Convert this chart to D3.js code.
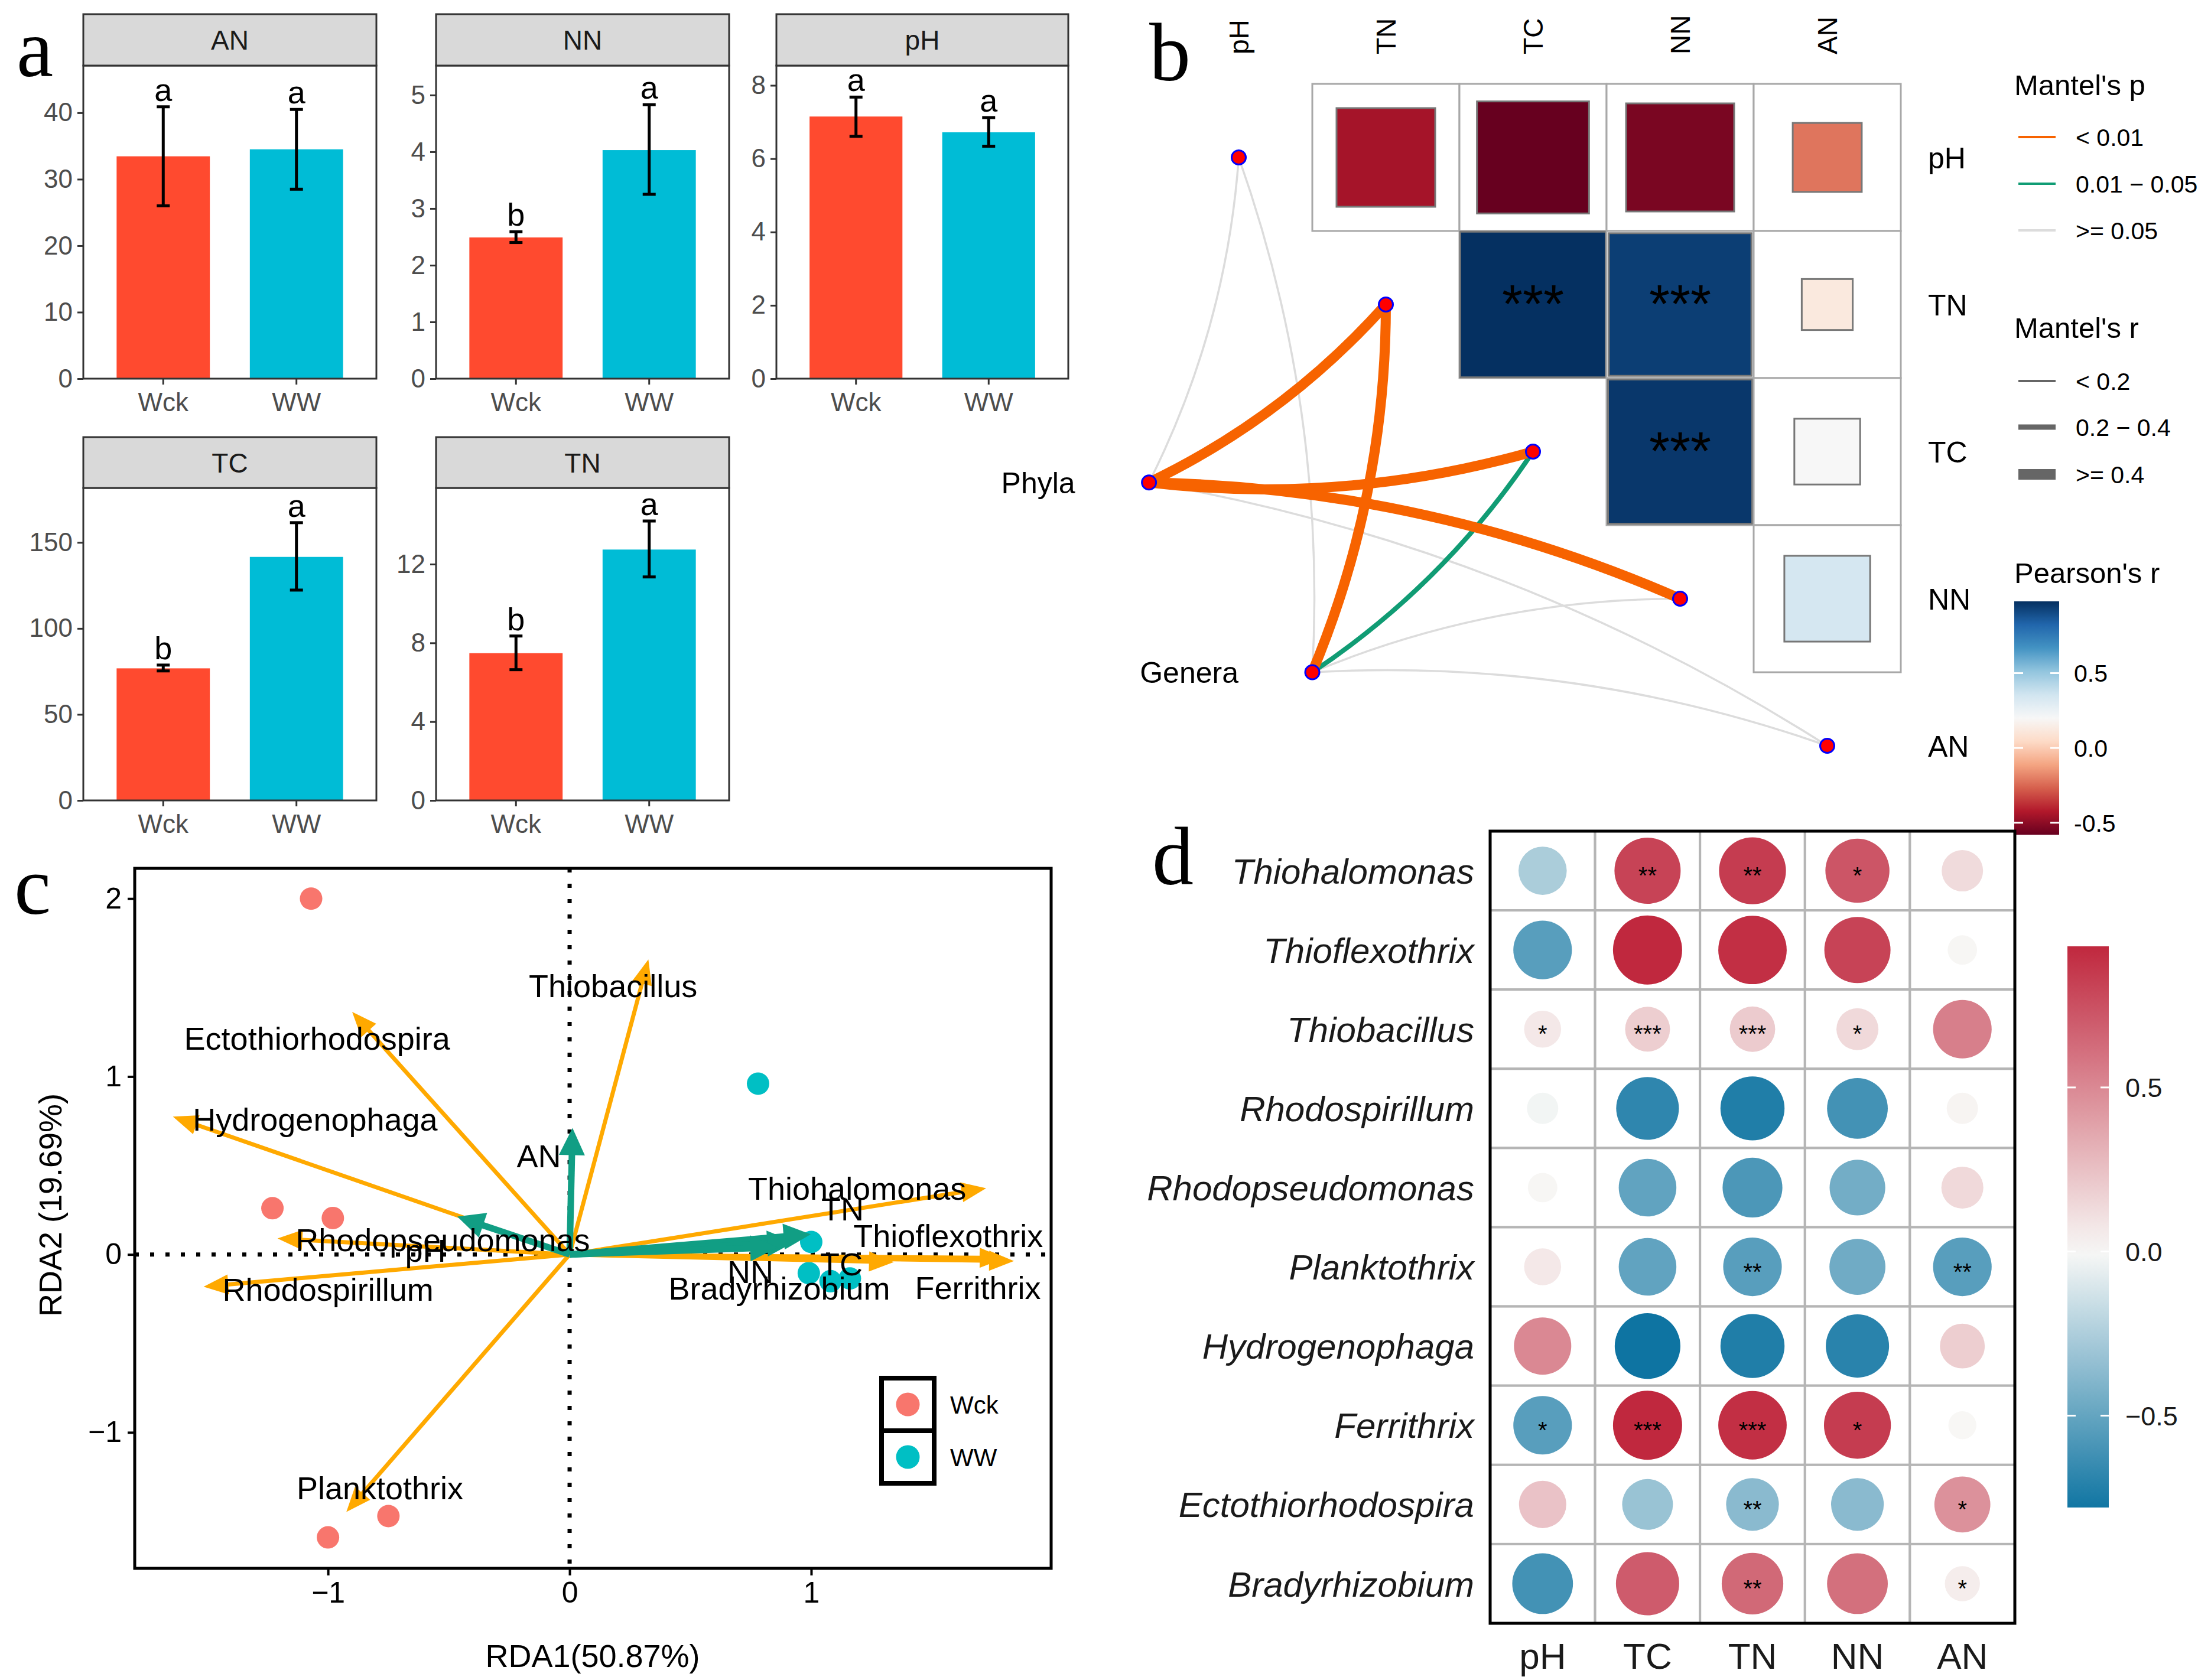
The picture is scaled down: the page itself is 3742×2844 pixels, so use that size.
<!DOCTYPE html>
<html>
<head>
<meta charset="utf-8">
<script src="https://cdn.jsdelivr.net/npm/d3@7"></script>
<style>
body{margin:0;background:#fff}
svg{display:block}
text{font-family:"Liberation Sans",Arial,Helvetica,sans-serif}
</style>
</head>
<body>
<svg id="fig" width="3742" height="2844"></svg>
<script>
// ---------- data: panel a (bars, mean and error range) ----------
var groups = ["Wck", "WW"];
var facetVars = ["AN", "NN", "pH", "TC", "TN"];
var barMeans = [[33.45, 34.5], [2.49, 4.03], [7.15, 6.72], [76.8, 141.6], [7.48, 12.74]];
var errLow  = [[26.0, 28.5], [2.40, 3.25], [6.61, 6.34], [75.3, 122.3], [6.64, 11.35]];
var errHigh = [[40.9, 40.5], [2.59, 4.83], [7.68, 7.12], [78.7, 161.5], [8.35, 14.19]];
var sigLetters = [["a", "a"], ["b", "a"], ["a", "a"], ["b", "a"], ["b", "a"]];
var yTop = [47.1, 5.52, 8.54, 181.7, 15.87];
var yTicks = [[0, 10, 20, 30, 40], [0, 1, 2, 3, 4, 5], [0, 2, 4, 6, 8], [0, 50, 100, 150], [0, 4, 8, 12]];

// ---------- data: panel b (pearson matrix + mantel links) ----------
var envVars = ["pH", "TN", "TC", "NN", "AN"];
var pearsonB = [
  [null, -0.45, -0.58, -0.54, -0.22],
  [null, null, 0.98, 0.94, 0.12],
  [null, null, null, 0.96, 0.20],
  [null, null, null, null, 0.34],
  [null, null, null, null, null]
];
var pearsonSig = [
  ["", "", "", "", ""],
  ["", "", "***", "***", ""],
  ["", "", "", "***", ""],
  ["", "", "", "", ""],
  ["", "", "", "", ""]
];
var specs = ["Phyla", "Genera"];
var mantelR = [[0.10, 0.46, 0.45, 0.48, 0.08], [0.05, 0.42, 0.28, 0.12, 0.10]];
var mantelP = [[0.30, 0.002, 0.001, 0.001, 0.50], [0.60, 0.004, 0.02, 0.20, 0.30]];
var pLabels = ["< 0.01", "0.01 \u2212 0.05", ">= 0.05"];
var rLabels = ["< 0.2", "0.2 \u2212 0.4", ">= 0.4"];

// ---------- data: panel c (RDA) ----------
var siteGroup = ["Wck", "Wck", "Wck", "Wck", "Wck", "WW", "WW", "WW", "WW", "WW"];
var siteX = [-1.07, -1.23, -0.98, -0.75, -1.00, 0.78, 1.00, 0.99, 1.08, 1.16];
var siteY = [2.00, 0.26, 0.205, -1.47, -1.59, 0.96, 0.07, -0.105, -0.15, -0.135];
var speciesNames = ["Thiobacillus", "Ectothiorhodospira", "Hydrogenophaga", "Rhodopseudomonas", "Rhodospirillum",
  "Planktothrix", "Thiohalomonas", "Thioflexothrix", "Ferrithrix", "Bradyrhizobium"];
var speciesX = [0.326, -0.90, -1.642, -1.209, -1.515, -0.924, 1.724, 1.80, 1.839, 1.342];
var speciesY = [1.658, 1.363, 0.775, 0.09, -0.181, -1.447, 0.372, -0.02, -0.037, -0.043];
var speciesLabX = [0.18, -1.045, -1.053, -0.525, -1.0, -0.785, 1.19, 1.567, 1.69, 0.868];
var speciesLabY = [1.51, 1.215, 0.76, 0.084, -0.196, -1.311, 0.372, 0.107, -0.186, -0.19];
var envNamesC = ["AN", "pH", "TN", "TC", "NN"];
var envX = [0.012, -0.465, 0.998, 0.93, 0.86];
var envY = [0.711, 0.213, 0.113, 0.07, 0.04];
var envLabX = [-0.127, -0.597, 1.13, 1.125, 0.748];
var envLabY = [0.556, 0.024, 0.257, -0.053, -0.097];

// ---------- data: panel d (genus x env correlation) ----------
var genera = ["Thiohalomonas", "Thioflexothrix", "Thiobacillus", "Rhodospirillum", "Rhodopseudomonas",
  "Planktothrix", "Hydrogenophaga", "Ferrithrix", "Ectothiorhodospira", "Bradyrhizobium"];
var envD = ["pH", "TC", "TN", "NN", "AN"];
var corrD = [
  [-0.26, 0.81, 0.84, 0.73, 0.13],
  [-0.54, 0.93, 0.90, 0.81, 0.01],
  [0.07, 0.19, 0.20, 0.14, 0.54],
  [-0.02, -0.68, -0.73, -0.61, 0.02],
  [0.01, -0.51, -0.58, -0.45, 0.14],
  [0.07, -0.51, -0.54, -0.46, -0.54],
  [0.50, -0.79, -0.73, -0.70, 0.19],
  [-0.54, 0.93, 0.90, 0.84, 0.005],
  [0.24, -0.32, -0.37, -0.37, 0.46],
  [-0.61, 0.70, 0.64, 0.61, 0.05]
];
var sigD = [
  ["", "**", "**", "*", ""],
  ["", "", "", "", ""],
  ["*", "***", "***", "*", ""],
  ["", "", "", "", ""],
  ["", "", "", "", ""],
  ["", "", "**", "", "**"],
  ["", "", "", "", ""],
  ["*", "***", "***", "*", ""],
  ["", "", "**", "", "*"],
  ["", "", "**", "", "*"]
];

var svg = d3.select('#fig');
svg.append('rect').attr('width', 3742).attr('height', 2844).attr('fill', '#fff');

function panelLetter(t, x, y) {
  svg.append('text').attr('x', x).attr('y', y).text(t)
    .style('font-family', '"Liberation Serif","Times New Roman",serif')
    .style('font-size', '140px').attr('fill', '#000');
}

// ================= panel a =================
var groupFill = ["#FF4A2F", "#00BCD6"];
var facetCol = [0, 1, 2, 0, 1], facetRow = [0, 0, 0, 1, 1];
var colLeft = [141, 738, 1314], panelW = [496, 496, 494];
var rowStrip = [24, 740], rowTop = [111, 826], rowBottom = [641, 1355];

facetVars.forEach(function(v, i) {
  var L = colLeft[facetCol[i]], W = panelW[facetCol[i]];
  var T = rowTop[facetRow[i]], B = rowBottom[facetRow[i]], S = rowStrip[facetRow[i]];
  var x = d3.scaleBand().domain(groups).range([L, L + W]).paddingInner(0.3).paddingOuter(0.25);
  var y = d3.scaleLinear().domain([0, yTop[i]]).range([B, T]);
  var g = svg.append('g');

  g.selectAll('rect.bar').data(groups).enter().append('rect')
    .attr('x', function(d) { return x(d); })
    .attr('width', x.bandwidth())
    .attr('y', function(d, j) { return y(barMeans[i][j]); })
    .attr('height', function(d, j) { return B - y(barMeans[i][j]); })
    .attr('fill', function(d, j) { return groupFill[j]; });

  // error bars
  groups.forEach(function(d, j) {
    var cx = x(d) + x.bandwidth() / 2;
    g.append('line').attr('x1', cx).attr('x2', cx)
      .attr('y1', y(errLow[i][j])).attr('y2', y(errHigh[i][j]))
      .attr('stroke', '#000').attr('stroke-width', 5);
    [errLow[i][j], errHigh[i][j]].forEach(function(e) {
      g.append('line').attr('x1', cx - 11).attr('x2', cx + 11)
        .attr('y1', y(e)).attr('y2', y(e))
        .attr('stroke', '#000').attr('stroke-width', 5);
    });
    g.append('text').attr('x', cx).attr('y', y(errHigh[i][j]) - 10)
      .attr('text-anchor', 'middle').style('font-size', '54px').attr('fill', '#000')
      .text(sigLetters[i][j]);
  });

  var ay = g.append('g').attr('transform', 'translate(' + L + ',0)')
    .call(d3.axisLeft(y).tickValues(yTicks[i]).tickSize(10).tickPadding(8).tickFormat(d3.format('~g')));
  var ax = g.append('g').attr('transform', 'translate(0,' + B + ')')
    .call(d3.axisBottom(x).tickSize(10).tickPadding(14));
  [ay, ax].forEach(function(a) {
    a.select('.domain').remove();
    a.selectAll('line').attr('stroke', '#333').attr('stroke-width', 3);
    a.selectAll('text').style('font-size', '44px').attr('fill', '#4d4d4d')
      .style('font-family', '"Liberation Sans",Arial,sans-serif');
  });

  g.append('rect').attr('x', L).attr('y', T).attr('width', W).attr('height', B - T)
    .attr('fill', 'none').attr('stroke', '#333').attr('stroke-width', 3);
  g.append('rect').attr('x', L).attr('y', S).attr('width', W).attr('height', T - S)
    .attr('fill', '#d9d9d9').attr('stroke', '#333').attr('stroke-width', 3);
  g.append('text').attr('x', L + W / 2).attr('y', (S + T) / 2).attr('dy', '0.36em')
    .attr('text-anchor', 'middle').style('font-size', '46px').attr('fill', '#1a1a1a').text(v);
});
panelLetter('a', 28, 129);

// ================= panel b =================
var cellB = 249;
var bx = d3.scaleBand().domain(envVars).range([1972, 1972 + 5 * cellB]);
var by = d3.scaleBand().domain(envVars).range([142, 142 + 5 * cellB]);
var gu = d3.scaleLinear().domain([0, 5]).range([1972, 1972 + 5 * cellB]);
var gv = d3.scaleLinear().domain([0, 5]).range([142, 142 + 5 * cellB]);
var rdbu = d3.schemeRdBu[11];
var pearsonMin = -0.58, pearsonMax = 0.98;
var colB = d3.scaleLinear()
  .domain(d3.range(11).map(function(k) { return pearsonMin + k * (pearsonMax - pearsonMin) / 10; }))
  .range(rdbu);

var gb = svg.append('g');
// links first (below nodes)
var specU = [-0.11, 1.0], specV = [2.71, 4.0];
function pColor(p) { return p < 0.01 ? "#F76300" : (p < 0.05 ? "#109C74" : "#DCDCDC"); }
function rWidth(r) { return r < 0.2 ? 3.5 : (r < 0.4 ? 8 : 17); }
var links = [];
specs.forEach(function(s, si) {
  envVars.forEach(function(e, ei) {
    links.push({si: si, ei: ei, r: mantelR[si][ei], p: mantelP[si][ei]});
  });
});
links.sort(function(a, b) { return b.p - a.p; });
links.forEach(function(l) {
  var x1 = gu(specU[l.si]), y1 = gv(specV[l.si]);
  var x2 = bx(envVars[l.ei]) + cellB / 2, y2 = by(envVars[l.ei]) + cellB / 2;
  var dx = x2 - x1, dy = y2 - y1, len = Math.sqrt(dx * dx + dy * dy);
  var sgn = l.ei < envVars.length / 2 ? 1 : -1;
  var cx = (x1 + x2) / 2 + sgn * (-dy / len) * 0.1 * len;
  var cy = (y1 + y2) / 2 + sgn * (dx / len) * 0.1 * len;
  gb.append('path').attr('d', 'M' + x1 + ',' + y1 + 'Q' + cx + ',' + cy + ' ' + x2 + ',' + y2)
    .attr('fill', 'none').attr('stroke', pColor(l.p)).attr('stroke-width', rWidth(l.r));
});

// matrix cells
envVars.forEach(function(rv, i) {
  envVars.forEach(function(cv, j) {
    var r = pearsonB[i][j];
    if (r === null) return;
    var x0 = bx(cv), y0 = by(rv);
    gb.append('rect').attr('x', x0).attr('y', y0).attr('width', cellB).attr('height', cellB)
      .attr('fill', '#fff').attr('stroke', '#a8a8a8').attr('stroke-width', 3);
    var side = cellB * Math.sqrt(Math.abs(r));
    gb.append('rect').attr('x', x0 + (cellB - side) / 2).attr('y', y0 + (cellB - side) / 2)
      .attr('width', side).attr('height', side)
      .attr('fill', colB(r)).attr('stroke', '#777').attr('stroke-width', 3);
    if (pearsonSig[i][j]) {
      gb.append('text').attr('x', x0 + cellB / 2).attr('y', y0 + cellB / 2 + 30)
        .attr('text-anchor', 'middle').style('font-size', '90px').attr('fill', '#000')
        .text(pearsonSig[i][j]);
    }
  });
});

// nodes
envVars.forEach(function(v) {
  gb.append('circle').attr('cx', bx(v) + cellB / 2).attr('cy', by(v) + cellB / 2).attr('r', 12)
    .attr('fill', '#FF0000').attr('stroke', '#0000FF').attr('stroke-width', 3);
});
specs.forEach(function(s, si) {
  var x = gu(specU[si]), y = gv(specV[si]);
  gb.append('circle').attr('cx', x).attr('cy', y).attr('r', 12)
    .attr('fill', '#FF0000').attr('stroke', '#0000FF').attr('stroke-width', 3);
  gb.append('text').attr('x', x - 125).attr('y', y).attr('dy', '0.36em').attr('text-anchor', 'end')
    .style('font-size', '50px').attr('fill', '#000').text(s);
});

// labels
envVars.forEach(function(v) {
  var cx = bx(v) + cellB / 2;
  gb.append('text').attr('transform', 'translate(' + cx + ',92) rotate(-90)').attr('dy', '0.36em')
    .style('font-size', '46px').attr('fill', '#000').text(v);
  gb.append('text').attr('x', 3263).attr('y', by(v) + cellB / 2).attr('dy', '0.36em')
    .style('font-size', '50px').attr('fill', '#000').text(v);
});

// legends
var lx = 3409;
gb.append('text').attr('x', lx).attr('y', 161).style('font-size', '49px').text("Mantel's p");
pLabels.forEach(function(t, k) {
  var yy = [232, 311, 390][k];
  gb.append('line').attr('x1', 3416).attr('x2', 3479).attr('y1', yy).attr('y2', yy)
    .attr('stroke', [pColor(0.001), pColor(0.02), pColor(0.5)][k]).attr('stroke-width', 4);
  gb.append('text').attr('x', 3513).attr('y', yy).attr('dy', '0.36em').style('font-size', '41px').text(t);
});
gb.append('text').attr('x', lx).attr('y', 572).style('font-size', '49px').text("Mantel's r");
rLabels.forEach(function(t, k) {
  var yy = [645, 723, 803][k];
  gb.append('line').attr('x1', 3416).attr('x2', 3479).attr('y1', yy).attr('y2', yy)
    .attr('stroke', '#666').attr('stroke-width', [4, 9, 18][k]);
  gb.append('text').attr('x', 3513).attr('y', yy).attr('dy', '0.36em').style('font-size', '41px').text(t);
});
gb.append('text').attr('x', lx).attr('y', 987).style('font-size', '49px').text("Pearson's r");

var defs = svg.append('defs');
var gradB = defs.append('linearGradient').attr('id', 'gradB').attr('x1', 0).attr('x2', 0).attr('y1', 1).attr('y2', 0);
d3.range(0, 1.0001, 0.05).forEach(function(t) {
  gradB.append('stop').attr('offset', t).attr('stop-color', colB(pearsonMin + t * (pearsonMax - pearsonMin)));
});
var cbB = d3.scaleLinear().domain([pearsonMin, pearsonMax]).range([1413, 1018]);
gb.append('rect').attr('x', 3409).attr('y', 1018).attr('width', 76).attr('height', 395).attr('fill', 'url(#gradB)');
[0.5, 0.0, -0.5].forEach(function(t) {
  var yy = cbB(t);
  gb.append('line').attr('x1', 3409).attr('x2', 3424).attr('y1', yy).attr('y2', yy).attr('stroke', '#fff').attr('stroke-width', 3);
  gb.append('line').attr('x1', 3470).attr('x2', 3485).attr('y1', yy).attr('y2', yy).attr('stroke', '#fff').attr('stroke-width', 3);
  gb.append('text').attr('x', 3510).attr('y', yy).attr('dy', '0.36em').style('font-size', '41px')
    .text(d3.format('.1f')(t).replace('\u2212', '-'));
});
panelLetter('b', 1945, 136);

// ================= panel c =================
var xC = d3.scaleLinear().domain([-1.80, 1.993]).range([228, 1779]);
var yC = d3.scaleLinear().domain([-1.764, 2.17]).range([2655, 1470]);
var gc = svg.append('g');
var orange = "#FFA900", teal = "#119E84";

gc.append('line').attr('x1', xC(0)).attr('x2', xC(0)).attr('y1', 1470).attr('y2', 2655)
  .attr('stroke', '#000').attr('stroke-width', 7).attr('stroke-dasharray', '7 19');
gc.append('line').attr('x1', 228).attr('x2', 1779).attr('y1', yC(0)).attr('y2', yC(0))
  .attr('stroke', '#000').attr('stroke-width', 7).attr('stroke-dasharray', '7 19');

function arrow(g, x2, y2, col, w, hl, hw) {
  var x1 = xC(0), y1 = yC(0);
  var X = xC(x2), Y = yC(y2);
  var dx = X - x1, dy = Y - y1, len = Math.sqrt(dx * dx + dy * dy);
  var ux = dx / len, uy = dy / len;
  var bxp = X - ux * hl, byp = Y - uy * hl;
  g.append('line').attr('x1', x1).attr('y1', y1).attr('x2', bxp + ux * 4).attr('y2', byp + uy * 4)
    .attr('stroke', col).attr('stroke-width', w);
  g.append('polygon').attr('points', [
    [X, Y], [bxp - uy * hw, byp + ux * hw], [bxp + uy * hw, byp - ux * hw]
  ].map(function(p) { return p.join(','); }).join(' ')).attr('fill', col);
}

// sites
gc.selectAll('circle.site').data(siteX).enter().append('circle')
  .attr('cx', function(d) { return xC(d); })
  .attr('cy', function(d, i) { return yC(siteY[i]); })
  .attr('r', 19)
  .attr('fill', function(d, i) { return siteGroup[i] === "Wck" ? "#F8766D" : "#00BFC4"; });

speciesNames.forEach(function(n, i) { arrow(gc, speciesX[i], speciesY[i], orange, 7, 42, 17); });
envNamesC.forEach(function(n, i) { arrow(gc, envX[i], envY[i], teal, 11, 46, 22); });

speciesNames.forEach(function(n, i) {
  gc.append('text').attr('x', xC(speciesLabX[i])).attr('y', yC(speciesLabY[i])).attr('dy', '0.36em')
    .attr('text-anchor', 'middle').style('font-size', '54px').attr('fill', '#000').text(n);
});
envNamesC.forEach(function(n, i) {
  gc.append('text').attr('x', xC(envLabX[i])).attr('y', yC(envLabY[i])).attr('dy', '0.36em')
    .attr('text-anchor', 'middle').style('font-size', '54px').attr('fill', '#000').text(n);
});

var axC = gc.append('g').attr('transform', 'translate(0,2655)')
  .call(d3.axisBottom(xC).tickValues([-1, 0, 1]).tickSize(12).tickPadding(10).tickFormat(d3.format('d')));
var ayC = gc.append('g').attr('transform', 'translate(228,0)')
  .call(d3.axisLeft(yC).tickValues([-1, 0, 1, 2]).tickSize(12).tickPadding(10).tickFormat(d3.format('d')));
[axC, ayC].forEach(function(a) {
  a.select('.domain').remove();
  a.selectAll('line').attr('stroke', '#000').attr('stroke-width', 4);
  a.selectAll('text').style('font-size', '50px').attr('fill', '#000')
    .style('font-family', '"Liberation Sans",Arial,sans-serif');
});
gc.append('rect').attr('x', 228).attr('y', 1470).attr('width', 1551).attr('height', 1185)
  .attr('fill', 'none').attr('stroke', '#000').attr('stroke-width', 5);
gc.append('text').attr('x', 1003).attr('y', 2822).attr('text-anchor', 'middle')
  .style('font-size', '54px').text('RDA1(50.87%)');
gc.append('text').attr('transform', 'translate(104,2040) rotate(-90)').attr('text-anchor', 'middle')
  .style('font-size', '54px').text('RDA2 (19.69%)');

// legend c
groups.forEach(function(gname, k) {
  var y0 = 2333 + k * 89;
  gc.append('rect').attr('x', 1492).attr('y', y0).attr('width', 89).attr('height', 89)
    .attr('fill', '#fff').attr('stroke', '#000').attr('stroke-width', 8);
  gc.append('circle').attr('cx', 1536.5).attr('cy', y0 + 44.5).attr('r', 20)
    .attr('fill', k === 0 ? "#F8766D" : "#00BFC4");
  gc.append('text').attr('x', 1608).attr('y', y0 + 44.5).attr('dy', '0.36em')
    .style('font-size', '42px').text(gname);
});
panelLetter('c', 24, 1547);

// ================= panel d =================
var dx = d3.scaleBand().domain(envD).range([2522, 3410]);
var dy = d3.scaleBand().domain(genera).range([1407, 2748]);
var colD = d3.scaleLinear().domain([-0.79, 0, 0.93]).range(["#0e74a2", "#f8f8f6", "#c0283e"]);
var sizeD = d3.scaleSqrt().domain([0, 0.93]).range([21, 58.5]);
var gd = svg.append('g');

genera.forEach(function(gn, i) {
  envD.forEach(function(ev, j) {
    var x0 = dx(ev), y0 = dy(gn);
    gd.append('rect').attr('x', x0).attr('y', y0).attr('width', dx.bandwidth()).attr('height', dy.bandwidth())
      .attr('fill', '#fff').attr('stroke', '#b5b5b5').attr('stroke-width', 4);
  });
});
genera.forEach(function(gn, i) {
  envD.forEach(function(ev, j) {
    var cx = dx(ev) + dx.bandwidth() / 2, cy = dy(gn) + dy.bandwidth() / 2;
    var r = corrD[i][j];
    gd.append('circle').attr('cx', cx).attr('cy', cy).attr('r', sizeD(Math.abs(r))).attr('fill', colD(r));
    if (sigD[i][j]) {
      gd.append('text').attr('x', cx).attr('y', cy + 22).attr('text-anchor', 'middle')
        .style('font-size', '40px').attr('fill', '#000').text(sigD[i][j]);
    }
  });
  gd.append('text').attr('x', 2495).attr('y', dy(gn) + dy.bandwidth() / 2).attr('dy', '0.36em')
    .attr('text-anchor', 'end').style('font-size', '60px').style('font-style', 'italic')
    .attr('fill', '#1a1a1a').text(gn);
});
gd.append('rect').attr('x', 2522).attr('y', 1407).attr('width', 888).attr('height', 1341)
  .attr('fill', 'none').attr('stroke', '#000').attr('stroke-width', 5);
envD.forEach(function(ev) {
  gd.append('text').attr('x', dx(ev) + dx.bandwidth() / 2).attr('y', 2825).attr('text-anchor', 'middle')
    .style('font-size', '62px').attr('fill', '#1a1a1a').text(ev);
});

var gradD = defs.append('linearGradient').attr('id', 'gradD').attr('x1', 0).attr('x2', 0).attr('y1', 1).attr('y2', 0);
var dMin = -0.78, dMax = 0.93;
d3.range(0, 1.0001, 0.05).forEach(function(t) {
  gradD.append('stop').attr('offset', t).attr('stop-color', colD(dMin + t * (dMax - dMin)));
});
var cbD = d3.scaleLinear().domain([dMin, dMax]).range([2552, 1602]);
gd.append('rect').attr('x', 3499).attr('y', 1602).attr('width', 70).attr('height', 950).attr('fill', 'url(#gradD)');
[0.5, 0.0, -0.5].forEach(function(t) {
  var yy = cbD(t);
  gd.append('line').attr('x1', 3499).attr('x2', 3513).attr('y1', yy).attr('y2', yy).attr('stroke', '#fff').attr('stroke-width', 3);
  gd.append('line').attr('x1', 3555).attr('x2', 3569).attr('y1', yy).attr('y2', yy).attr('stroke', '#fff').attr('stroke-width', 3);
  gd.append('text').attr('x', 3597).attr('y', yy).attr('dy', '0.36em').style('font-size', '45px')
    .attr('fill', '#1a1a1a').text(d3.format('.1f')(t));
});
panelLetter('d', 1950, 1497);
</script>
</body>
</html>
